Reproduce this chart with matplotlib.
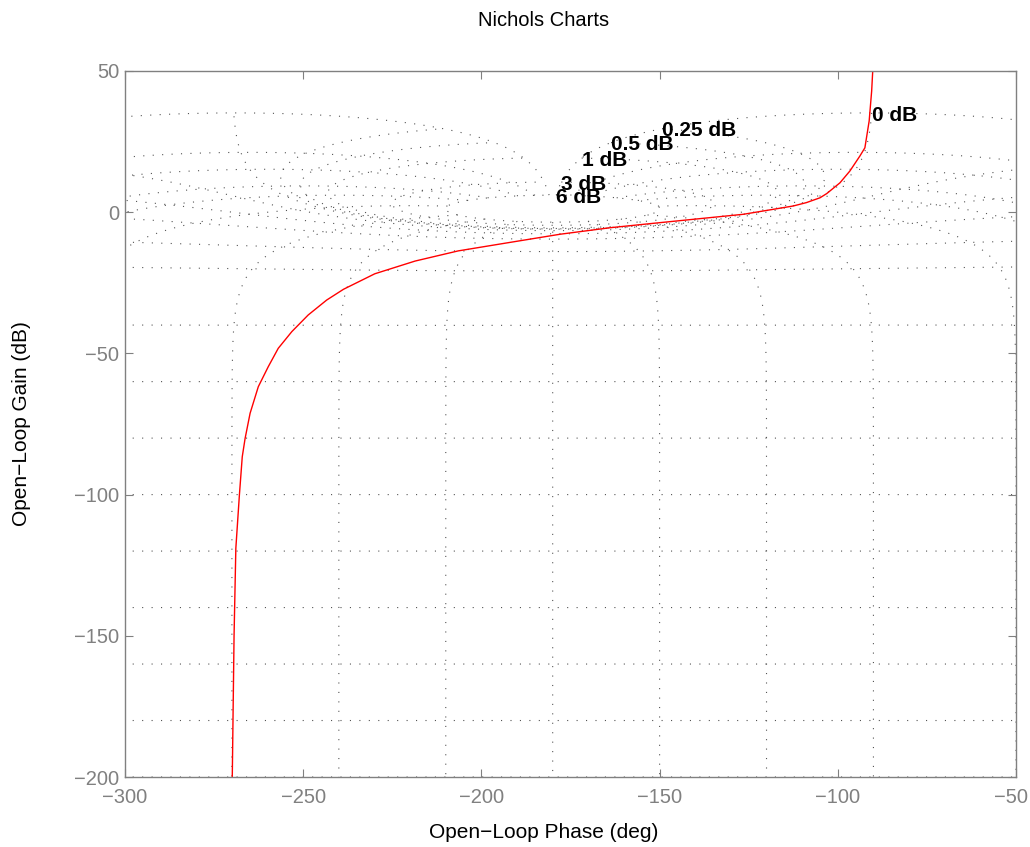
import numpy as np
import matplotlib
matplotlib.use("Agg")
import matplotlib.pyplot as plt
import matplotlib.transforms as mtransforms

# ---- data ----
phase_deg = [-269.9, -269.7, -269.4, -268.9, -267.9, -267.1, -266.3, -264.9, -262.6,
             -259.8, -257.0, -253.2, -248.6, -243.4, -238.7, -229.9, -218.6, -206.5,
             -192.5, -177.9, -163.9, -149.9, -126.5, -112.5, -108.8, -105.0, -103.1,
             -99.4, -96.6, -93.8, -92.4, -91.2, -90.5, -90.2]
gain_db = [-200, -180, -150, -119.0, -100.1, -86.6, -80.1, -71.2, -61.8,
           -54.7, -48.2, -42.3, -36.4, -31.1, -27.3, -21.8, -17.3, -13.7,
           -10.8, -7.8, -5.5, -3.7, -0.74, 2.2, 3.4, 5.1, 6.6,
           10.4, 14.6, 19.9, 22.8, 32.3, 42.9, 50]

# Nichols grid definition (closed-loop gains in dB and phases in deg)
cl_gains = [6, 3, 1, 0.5, 0.25, 0, -1, -3, -6, -12, -20, -40, -60, -80, -100,
            -120, -140, -160, -180, -200, -220, -240]
cl_phases = [-1, -5, -10, -20, -30, -50, -90, -120, -150, -180, -210, -240,
             -270, -310, -330, -340, -350, -355, -359]
label_gains = [6, 3, 1, 0.5, 0.25, 0]
label_texts = ['6 dB', '3 dB', '1 dB', '0.5 dB', '0.25 dB', '0 dB']

xticks = [-300, -250, -200, -150, -100, -50]
yticks = [-200, -150, -100, -50, 0, 50]


def open_loop(m_db, th_deg):
    T = 10 ** (np.asarray(m_db) / 20.0) * np.exp(1j * np.deg2rad(th_deg))
    G = T / (1 - T)
    ph = np.degrees(np.angle(G))
    ph = np.where(ph > 0, ph - 360, ph)
    return ph, 20 * np.log10(np.abs(G))


plt.rcParams['font.family'] = ['Liberation Sans', 'DejaVu Sans']
plt.rcParams['lines.scale_dashes'] = False

fig = plt.figure(figsize=(10.30, 8.47), dpi=100)
ax = fig.add_axes([125 / 1030, 1 - 777 / 847, 891 / 1030, 706 / 847])

grid_kw = dict(color='#555555', lw=0.8, linestyle=(0, (0.8, 6.0)), zorder=1)
th = np.linspace(-1, -359, 7000)
for g in cl_gains:
    px, gy = open_loop(g, th)
    ax.plot(px, gy, **grid_kw)

m = np.concatenate([np.linspace(6, 0.5, 800), np.linspace(0.5, -0.5, 2000),
                    np.linspace(-0.5, -20, 1500), np.linspace(-20, -240, 400)])
for p in cl_phases:
    px, gy = open_loop(m, p)
    ax.plot(px, gy, **grid_kw)

for g, t in zip(label_gains, label_texts):
    px, gy = open_loop(g, -1.0)
    ax.text(float(px), float(gy) - 0.8, t, fontsize=15, fontweight='bold',
            ha='left', va='center', zorder=3)

ax.plot(phase_deg, gain_db, color='red', lw=1.0, zorder=2)

ax.set_xlim(-300, -50)
ax.set_ylim(-200, 50)
ax.set_xticks(xticks)
ax.set_yticks(yticks)
ax.set_xticklabels([f'\u2212{abs(v)}' if v < 0 else str(v) for v in xticks])
ax.set_yticklabels([f'\u2212{abs(v)}' if v < 0 else str(v) for v in yticks])
gray = '#808080'
for s in ax.spines.values():
    s.set_color(gray)
    s.set_linewidth(1.0)
ax.tick_params(direction='in', length=6, width=0.8, color=gray, labelcolor=gray,
               labelsize=14.5, top=True, right=True)
ax.tick_params(axis='x', pad=8)
ax.tick_params(axis='y', pad=4)

# keep the last x tick label inside the figure, as in the reference
last = ax.get_xticklabels()[-1]
last.set_transform(last.get_transform() +
                   mtransforms.ScaledTranslation(-5 / 100, 0, fig.dpi_scale_trans))

fig.text(544 / 1030, 1 - 20 / 847, 'Nichols Charts', ha='center', va='center', fontsize=14.5)
fig.text(544 / 1030, 1 - 832 / 847, 'Open\u2212Loop Phase (deg)', ha='center', va='center', fontsize=15)
fig.text(22 / 1030, 1 - 424 / 847, 'Open\u2212Loop Gain (dB)', ha='center', va='center',
         rotation=90, fontsize=15)

fig.savefig('out.png', dpi=100)
